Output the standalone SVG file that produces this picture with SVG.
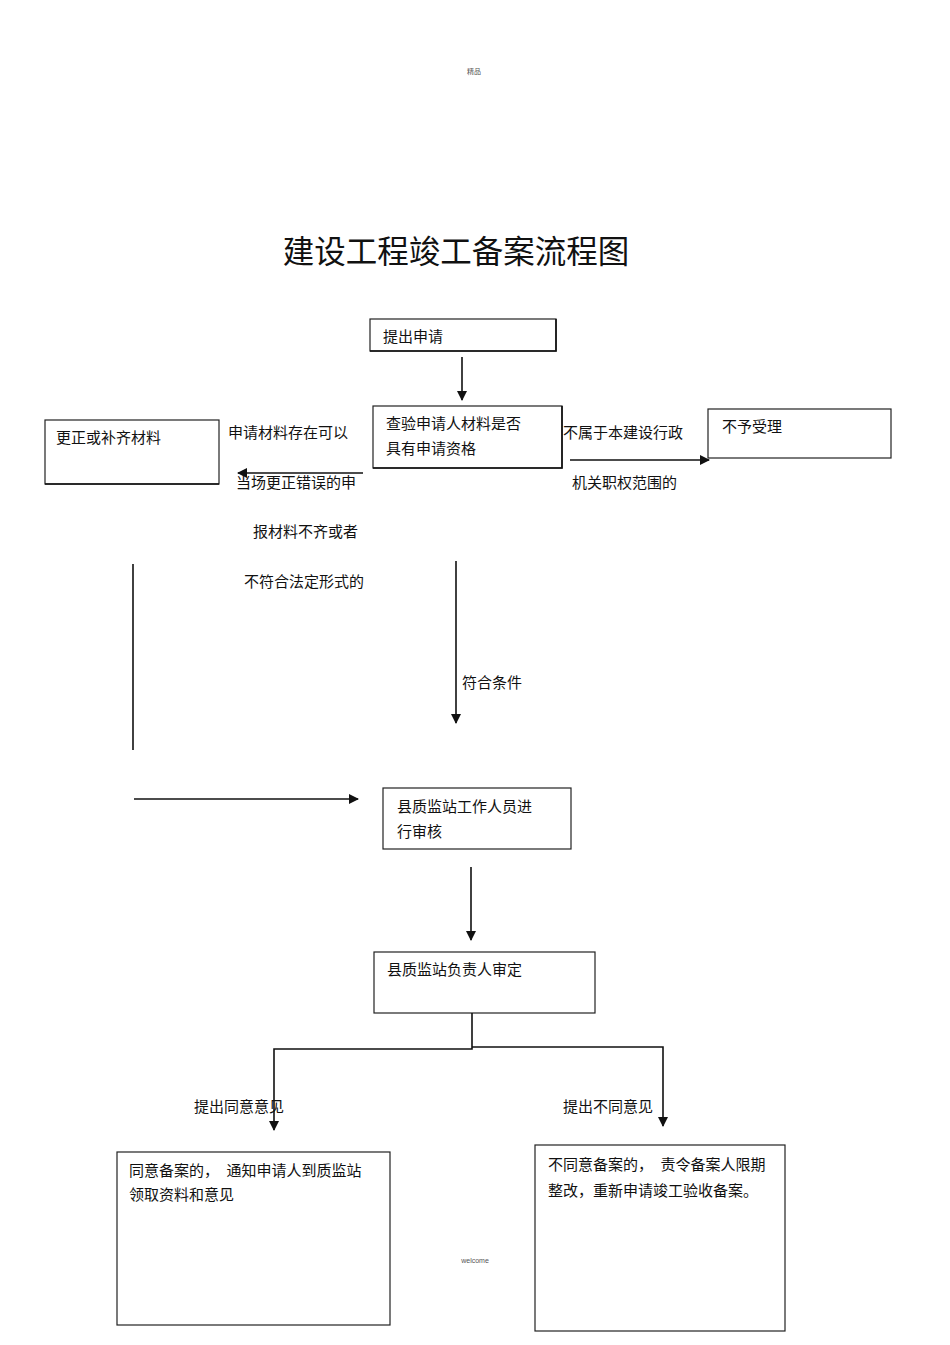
<svg xmlns="http://www.w3.org/2000/svg" width="950" height="1345" viewBox="0 0 950 1345">
<style>
text{font-family:"Liberation Sans","Noto Sans CJK SC",sans-serif;fill:#111;font-size:15px}
.box{fill:#fff;stroke:#222;stroke-width:1.2}
.ln{fill:none;stroke:#111;stroke-width:1.6}
.tiny{font-size:7px;fill:#555}
.title{font-size:31.5px}
</style>
<defs>
<marker id="ah" markerWidth="10" markerHeight="10" refX="9" refY="5" orient="auto" markerUnits="userSpaceOnUse">
<path d="M0,0 L10,5 L0,10 Z" fill="#111"/>
</marker>
</defs>
<rect width="950" height="1345" fill="#fff"/>
<text class="tiny" x="474" y="74" text-anchor="middle">精品</text>
<text class="title" x="456" y="263" text-anchor="middle">建设工程竣工备案流程图</text>

<g id="n1"><rect class="box" x="370" y="319" width="186" height="32"/><path class="ln" d="M370,351 H556 V319"/><text x="383" y="342">提出申请</text></g>
<g id="n2"><rect class="box" x="373" y="406" width="189" height="62"/><path class="ln" d="M373,468 H562 V406"/><text x="386" y="429">查验申请人材料是否</text><text x="386" y="454">具有申请资格</text></g>
<g id="n3"><rect class="box" x="45" y="420" width="174" height="64"/><path class="ln" d="M45,484 H219"/><text x="56" y="443">更正或补齐材料</text></g>
<g id="n4"><rect class="box" x="708" y="409" width="183" height="49"/><text x="722" y="432">不予受理</text></g>
<g id="n5"><rect class="box" x="383" y="788" width="188" height="61"/><text x="397" y="812">县质监站工作人员进</text><text x="397" y="837">行审核</text></g>
<g id="n6"><rect class="box" x="374" y="952" width="221" height="61"/><text x="387" y="975">县质监站负责人审定</text></g>
<g id="n7"><rect class="box" x="117" y="1152" width="273" height="173"/><text x="129" y="1176">同意备案的，　通知申请人到质监站</text><text x="129" y="1200">领取资料和意见</text></g>
<g id="n8"><rect class="box" x="535" y="1145" width="250" height="186"/><text x="548" y="1170">不同意备案的，　责令备案人限期</text><text x="548" y="1196">整改，重新申请竣工验收备案。</text></g>

<g id="connectors">
<line class="ln" x1="462" y1="357" x2="462" y2="400" marker-end="url(#ah)"/>
<line class="ln" x1="363" y1="473" x2="238" y2="473" marker-end="url(#ah)"/>
<line class="ln" x1="570" y1="460" x2="709" y2="460" marker-end="url(#ah)"/>
<line class="ln" x1="456" y1="561" x2="456" y2="723" marker-end="url(#ah)"/>
<line class="ln" x1="133" y1="564" x2="133" y2="750" stroke-width="1.2"/>
<line class="ln" x1="134" y1="799" x2="358" y2="799" marker-end="url(#ah)"/>
<line class="ln" x1="471" y1="867" x2="471" y2="940" marker-end="url(#ah)"/>
<path class="ln" d="M472,1013 V1049 H274 V1130" marker-end="url(#ah)"/>
<path class="ln" d="M472,1047 H663 V1126" marker-end="url(#ah)"/>
</g>

<g id="labels">
<text x="228" y="438">申请材料存在可以</text>
<text x="236" y="488">当场更正错误的申</text>
<text x="253" y="537">报材料不齐或者</text>
<text x="244" y="587">不符合法定形式的</text>
<text x="563" y="438">不属于本建设行政</text>
<text x="572" y="488">机关职权范围的</text>
<text x="462" y="688">符合条件</text>
<text x="194" y="1112">提出同意意见</text>
<text x="563" y="1112">提出不同意见</text>
</g>
<text class="tiny" x="475" y="1263" text-anchor="middle">welcome</text>
</svg>
